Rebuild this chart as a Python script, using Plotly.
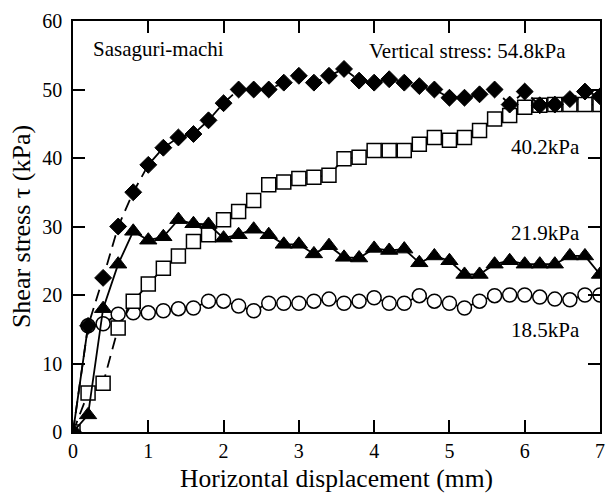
import plotly.graph_objects as go

x_disp = [0.0, 0.2, 0.4, 0.6, 0.8, 1.0, 1.2, 1.4, 1.6, 1.8, 2.0, 2.2, 2.4, 2.6, 2.8, 3.0,
          3.2, 3.4, 3.6, 3.8, 4.0, 4.2, 4.4, 4.6, 4.8, 5.0, 5.2, 5.4, 5.6, 5.8, 6.0, 6.2,
          6.4, 6.6, 6.8, 7.0]

tau_548 = [0, 15.5, 22.5, 30, 35, 39, 41.5, 43, 43.5, 45.5, 48, 50, 50, 50, 51, 52,
           51, 52, 53, 51.3, 51, 51.5, 51, 50.5, 50, 48.8, 48.8, 49.3, 50, 47.8, 49.7, 47.7,
           47.8, 48.6, 49.7, 49]
tau_402 = [0, 5.7, 7.1, 15.2, 19.1, 21.6, 23.9, 25.7, 27.8, 28.8, 31, 32.2, 33.8, 36.1, 36.5, 37,
           37.2, 37.5, 39.9, 40.1, 41.1, 41.1, 41.1, 42, 43, 42.6, 43, 44, 45.7, 46.2, 47.4, 47.7,
           47.8, 47.8, 47.8, 47.8]
tau_219 = [0, 2.5, 18, 24.5, 29.3, 28, 28.5, 31, 30.4, 30.3, 28.3, 28.8, 29.6, 28.8, 27.4, 27.4,
           26, 27.2, 25.5, 25.4, 26.8, 26.5, 26.7, 24.7, 25.7, 25, 23, 23, 24.5, 25, 24.5, 24.5,
           24.5, 25.7, 25.7, 23]
tau_185 = [0, 15.5, 15.8, 17.2, 17.4, 17.4, 17.7, 18, 18.1, 19.1, 19.1, 18.4, 17.7, 18.8, 18.8, 18.8,
           19.1, 19.4, 18.8, 19.1, 19.6, 18.8, 18.8, 19.9, 19.1, 18.8, 18.1, 19.1, 19.9, 20, 20, 19.7,
           19.4, 19.3, 20, 20]

x_ticks = [0, 1, 2, 3, 4, 5, 6, 7]
y_ticks = [0, 10, 20, 30, 40, 50, 60]

FONT = "Liberation Serif"

fig = go.Figure()

fig.add_trace(go.Scatter(
    x=x_disp, y=tau_185, mode="lines+markers", name="18.5kPa",
    line=dict(color="black", width=1.8),
    marker=dict(symbol="circle", size=14, color="white", line=dict(color="black", width=1.5)),
))
fig.add_trace(go.Scatter(
    x=x_disp, y=tau_402, mode="lines+markers", name="40.2kPa",
    line=dict(color="black", width=1.8, dash="12px,7px"),
    marker=dict(symbol="square", size=14, color="white", line=dict(color="black", width=1.5)),
))
fig.add_trace(go.Scatter(
    x=x_disp, y=tau_219, mode="lines+markers", name="21.9kPa",
    line=dict(color="black", width=1.8),
    marker=dict(symbol="triangle-up", size=15, color="black", line=dict(color="black", width=1)),
))
fig.add_trace(go.Scatter(
    x=x_disp, y=tau_548, mode="lines+markers", name="54.8kPa",
    line=dict(color="black", width=1.8, dash="12px,7px"),
    marker=dict(symbol="diamond", size=13, color="black", line=dict(color="black", width=1)),
))

axis_common = dict(
    showgrid=False, zeroline=False, showline=True, linecolor="black", linewidth=1.5,
    mirror="ticks", ticks="inside", ticklen=12, tickwidth=1.5, tickcolor="black",
    tickfont=dict(family=FONT, size=20, color="black"),
)

fig.update_xaxes(range=[0, 7], tickvals=x_ticks, ticktext=[str(v) for v in x_ticks],
                 title=dict(text="Horizontal displacement (mm)", font=dict(family=FONT, size=25.5, color="black"),
                            standoff=8),
                 **axis_common)
fig.update_yaxes(range=[0, 60], tickvals=y_ticks, ticktext=[str(v) for v in y_ticks],
                 ticklabelstandoff=5,
                 title=dict(text="Shear stress τ (kPa)", font=dict(family=FONT, size=26, color="black"),
                            standoff=4),
                 **axis_common)

ann_font = dict(family=FONT, size=21, color="black")
fig.add_annotation(text="Sasaguri-machi", xref="paper", yref="paper", x=0.035, y=0.933,
                   xanchor="left", yanchor="middle", showarrow=False, font=ann_font)
fig.add_annotation(text="Vertical stress: 54.8kPa", xref="paper", yref="paper", x=0.94, y=0.928,
                   xanchor="right", yanchor="middle", showarrow=False, font=ann_font)
fig.add_annotation(text="40.2kPa", xref="paper", yref="paper", x=0.965, y=0.693,
                   xanchor="right", yanchor="middle", showarrow=False, font=ann_font)
fig.add_annotation(text="21.9kPa", xref="paper", yref="paper", x=0.965, y=0.485,
                   xanchor="right", yanchor="middle", showarrow=False, font=ann_font)
fig.add_annotation(text="18.5kPa", xref="paper", yref="paper", x=0.965, y=0.249,
                   xanchor="right", yanchor="middle", showarrow=False, font=ann_font)

fig.update_layout(
    width=615, height=498,
    margin=dict(l=73, r=10, t=18, b=66),
    paper_bgcolor="white", plot_bgcolor="white",
    showlegend=False,
    font=dict(family=FONT, color="black"),
)

fig.write_html("out.html")
